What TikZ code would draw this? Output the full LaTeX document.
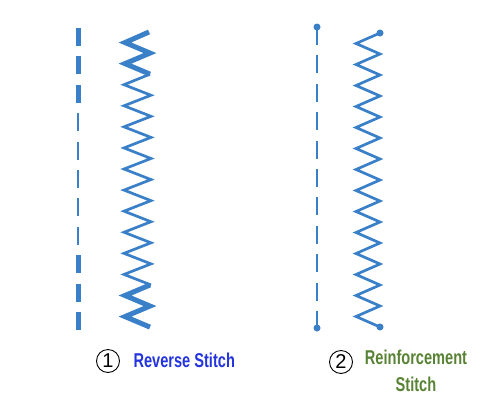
\documentclass[tikz,border=0pt]{standalone}
\usepackage{fontspec}
\setmainfont{Liberation Sans}
\newfontfamily\condfont[FakeStretch=0.73]{Liberation Sans}
\definecolor{threadblue}{RGB}{58,128,200}
\definecolor{reverseblue}{RGB}{36,52,222}
\definecolor{reinfgreen}{RGB}{88,130,52}

\begin{document}
\begin{tikzpicture}[x=1pt,y=-1pt,
  thread/.style={threadblue,line width=2.7pt},
  heavythread/.style={threadblue,line width=5pt},
  stitchdash/.style={dash pattern=on 18pt off 10.4pt},
  numring/.style={circle,draw,line width=0.9pt,minimum size=23pt,inner sep=0pt,font=\fontsize{20}{20}\selectfont},
  caption/.style={font=\condfont\bfseries\fontsize{20}{27}\selectfont,align=center}]
\useasboundingbox (0,0) rectangle (500,402);
% Reverse stitch: straight line
\draw[heavythread,stitchdash] (78,28) -- (78,103);
\draw[thread,stitchdash] (78,113.2) -- (78,245);
\draw[heavythread,stitchdash] (78,255.2) -- (78,330);
% Reverse stitch: zigzag
\draw[heavythread] (149,32) \foreach \i in {1,...,4}{ -- ({mod(\i,2)==1 ? 125 : 150},{32+10.54*\i}) };
\draw[thread] (150,{32+10.54*4}) \foreach \i in {5,...,24}{ -- ({mod(\i,2)==1 ? 124 : 151},{32+10.54*\i}) };
\draw[heavythread] (150,{32+10.54*24}) \foreach \i in {25,...,28}{ -- ({mod(\i,2)==1 ? 125 : 150},{32+10.54*\i}) };
% Reinforcement stitch: straight line
\coordinate (top2) at (317,27);
\coordinate (bot2) at (317,328);
\draw[thread,stitchdash] (top2) -- (bot2);
\fill[threadblue] (top2) circle (3.5) (bot2) circle (3.5);
% Reinforcement stitch: zigzag
\coordinate (ztop) at (380,33);
\draw[thread] (ztop) \foreach \i in {1,...,27}{ -- ({mod(\i,2)==1 ? 356 : 380},{33+10.5*\i}) } -- (380,327) coordinate (zbot);
\fill[threadblue] (ztop) circle (3.5) (zbot) circle (3.5);
% Labels
\node[numring] (n1) at (108,361) {1};
\node[caption,text=reverseblue,anchor=west] (t1) at (130,360) {Reverse Stitch};
\node[numring] (n2) at (341,362) {2};
\node[caption,text=reinfgreen,anchor=north] (t2) at (416,346) {Reinforcement\\Stitch};
\end{tikzpicture}
\end{document}
